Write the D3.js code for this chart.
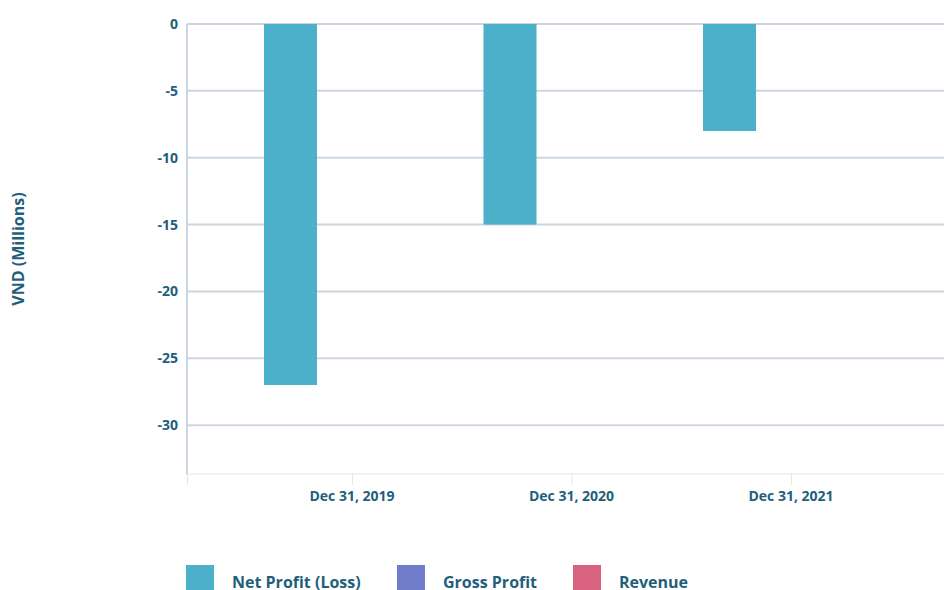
<!DOCTYPE html>
<html><head><meta charset="utf-8">
<script src="https://cdn.jsdelivr.net/npm/d3@7"></script>
<style>
body{margin:0;background:#fff;}
text{font-family:"Open Sans",sans-serif;font-weight:700;fill:#1f5f7c;}
</style></head>
<body><svg id="c" width="944" height="590"></svg>
<script>
const categories = ["Dec 31, 2019", "Dec 31, 2020", "Dec 31, 2021"];
const seriesNames = ["Net Profit (Loss)", "Gross Profit", "Revenue"];
const netProfit = [-27, -15, -8];
const grossProfit = [null, null, null];
const revenue = [null, null, null];
const yTicks = [0, -5, -10, -15, -20, -25, -30];
const colors = ["#4db0cb", "#717dcb", "#d9627f"];

const seriesValues = [netProfit, grossProfit, revenue];
const svg = d3.select("#c");
const plotL = 187, plotR = 944, plotT = 24, plotB = 475;

const y = d3.scaleLinear().domain([0, -33.73]).range([plotT, plotB]);
const x0 = d3.scaleBand().domain(categories).range([242.25, 900.75]).padding(0);
const x1 = d3.scaleBand().domain(seriesNames).range([-88, 88]).paddingInner(0.1382).paddingOuter(0);

// grid
svg.append("g").selectAll("line").data(yTicks).join("line")
  .attr("x1", plotL).attr("x2", plotR)
  .attr("y1", d => y(d)).attr("y2", d => y(d))
  .attr("stroke", "#ccd6e0").attr("stroke-width", 2);

// left axis line
svg.append("line").attr("x1", plotL).attr("x2", plotL).attr("y1", plotT).attr("y2", plotB)
  .attr("stroke", "#ccd6e0").attr("stroke-width", 2);
// bottom axis line
svg.append("line").attr("x1", plotL).attr("x2", plotR).attr("y1", plotB - 1).attr("y2", plotB - 1)
  .attr("stroke", "#e6e6e6").attr("stroke-width", 1);
// x ticks
const xt = [plotL].concat(categories.map(c => x0(c) + x0.bandwidth() / 2));
svg.append("g").selectAll("line").data(xt).join("line")
  .attr("x1", d => d + 0.5).attr("x2", d => d + 0.5).attr("y1", plotB - 1).attr("y2", plotB + 10)
  .attr("stroke", "#e6e6e6").attr("stroke-width", 1);

// y labels
svg.append("g").selectAll("text").data(yTicks).join("text")
  .attr("x", 178).attr("y", d => y(d) + 5)
  .attr("text-anchor", "end").attr("font-size", 14).text(d => d === 0 ? "0" : "-" + Math.abs(d));

// x labels
svg.append("g").selectAll("text").data(categories).join("text")
  .attr("x", d => x0(d) + x0.bandwidth() / 2).attr("y", 501)
  .attr("text-anchor", "middle").attr("font-size", 14).text(d => d);

// y title
svg.append("text").attr("transform", "translate(24,249) rotate(-90)")
  .attr("text-anchor", "middle").attr("font-size", 16).text("VND (Millions)");

// bars
const groups = svg.append("g").selectAll("g").data(categories).join("g")
  .attr("transform", d => `translate(${x0(d) + x0.bandwidth() / 2},0)`);
groups.selectAll("rect").data((c, i) => seriesNames.map((s, j) => ({s, v: seriesValues[j][i], color: colors[j]})).filter(d => d.v != null))
  .join("rect")
  .attr("x", d => x1(d.s)).attr("width", x1.bandwidth())
  .attr("y", d => Math.min(y(0), y(d.v))).attr("height", d => Math.abs(y(d.v) - y(0)))
  .attr("fill", d => d.color);

// legend
const legX = [186, 397, 573];
const leg = svg.append("g").selectAll("g").data(seriesNames).join("g")
  .attr("transform", (d, i) => `translate(${legX[i]},565)`);
leg.append("rect").attr("width", 28).attr("height", 28).attr("fill", (d, i) => colors[i]);
leg.append("text").attr("x", 46).attr("y", 23).attr("font-size", 16).text(d => d);
</script></body></html>
